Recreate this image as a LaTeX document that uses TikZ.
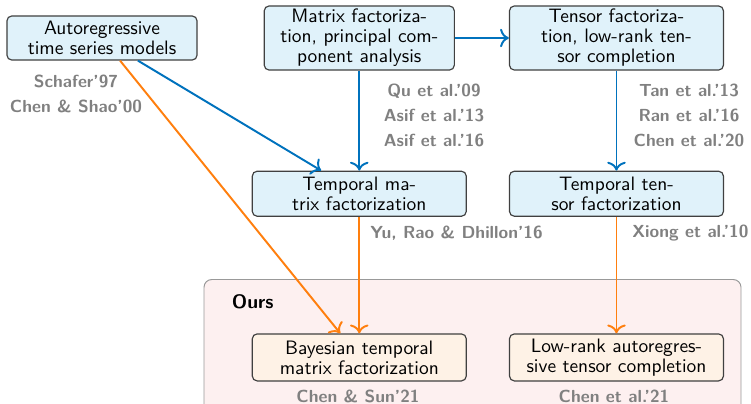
\documentclass[tikz,border=0pt]{standalone}
\usepackage{xcolor}
\usepackage{tikz}
\usetikzlibrary{arrows.meta, positioning, backgrounds}

\definecolor{boxblue}{RGB}{224,242,250}
\definecolor{boxorange}{RGB}{254,242,230}
\definecolor{oursfill}{RGB}{253,240,240}
\definecolor{lineblue}{RGB}{0,114,189}
\definecolor{lineorange}{RGB}{255,127,14}

\begin{document}
\begin{tikzpicture}[
  x=0.515pt, y=0.515pt,
  font=\sffamily\fontsize{10}{10.3}\selectfont,
  box/.style={rectangle, draw=black!75, rounded corners=2.5pt, line width=0.6pt,
             align=center, inner sep=1pt, minimum width=110.2pt, minimum height=23.2pt},
  priorbox/.style={box, fill=boxblue},
  oursnode/.style={box, fill=boxorange, minimum height=24.2pt},
  cite/.style={align=center, text=black!50, inner sep=0pt,
             font=\sffamily\bfseries\fontsize{9}{12.9}\selectfont},
  blueline/.style={-{To[length=1.6mm]}, line width=1pt, color=lineblue},
  orangeline/.style={-{To[length=1.6mm]}, line width=1pt, color=lineorange}
]
\useasboundingbox (0,0) rectangle (751,-403);

\node[priorbox, minimum width=97.9pt, minimum height=22.7pt] (ar) at (102,-38) {%
  Autoregressive\\time series models};
\node[priorbox, minimum width=97.9pt, minimum height=33pt, right=34pt of ar] (mf) {%
  Matrix factoriza-\\tion, principal com-\\ponent analysis};
\node[priorbox, minimum height=33pt, right=27.8pt of mf] (tf) {%
  Tensor factoriza-\\tion, low-rank ten-\\sor completion};
\node[priorbox, below=51.5pt of mf] (tmf) {Temporal ma-\\trix factorization};
\node[priorbox, below=51.5pt of tf] (ttf) {Temporal ten-\\sor factorization};
\node[oursnode, below=60pt of tmf] (btmf) {Bayesian temporal\\matrix factorization};
\node[oursnode, below=60pt of ttf] (latc) {Low-rank autoregres-\\sive tensor completion};

\node[cite] (arcite) at (76,-94) {Schafer'97\\Chen \& Shao'00};
\node[cite] (mfcite) at (434,-115) {Qu et al.'09\\Asif et al.'13\\Asif et al.'16};
\node[cite] (tfcite) at (689,-115) {Tan et al.'13\\Ran et al.'16\\Chen et al.'20};
\node[cite, anchor=west] (tmfcite) at (370,-233) {Yu, Rao \& Dhillon'16};
\node[cite, anchor=west] (ttfcite) at (632,-233) {Xiong et al.'10};
\node[cite] (btmfcite) at (358,-396) {Chen \& Sun'21};
\node[cite] (latccite) at (614,-396) {Chen et al.'21};

\node[anchor=west, font=\sffamily\bfseries\fontsize{10}{12}\selectfont] (ours) at (225,-302) {Ours};

\begin{scope}[on background layer]
  \draw[draw=black!40, fill=oursfill, rounded corners=4pt, line width=0.5pt]
    (204,-279.5) rectangle (741,-430);
\end{scope}

\draw[blueline] (mf.east) -- (tf.west);
\draw[blueline] (mf.south) -- (tmf.north);
\draw[blueline] (tf.south) -- (ttf.north);
\draw[blueline] ([xshift=18.5pt]ar.south) -- ([xshift=-19.6pt]tmf.north);
\draw[orangeline] ([xshift=9.3pt]ar.south) -- ([xshift=-9.8pt]btmf.north);
\draw[orangeline] (tmf.south) -- (btmf.north);
\draw[orangeline] (ttf.south) -- (latc.north);

\end{tikzpicture}
\end{document}
